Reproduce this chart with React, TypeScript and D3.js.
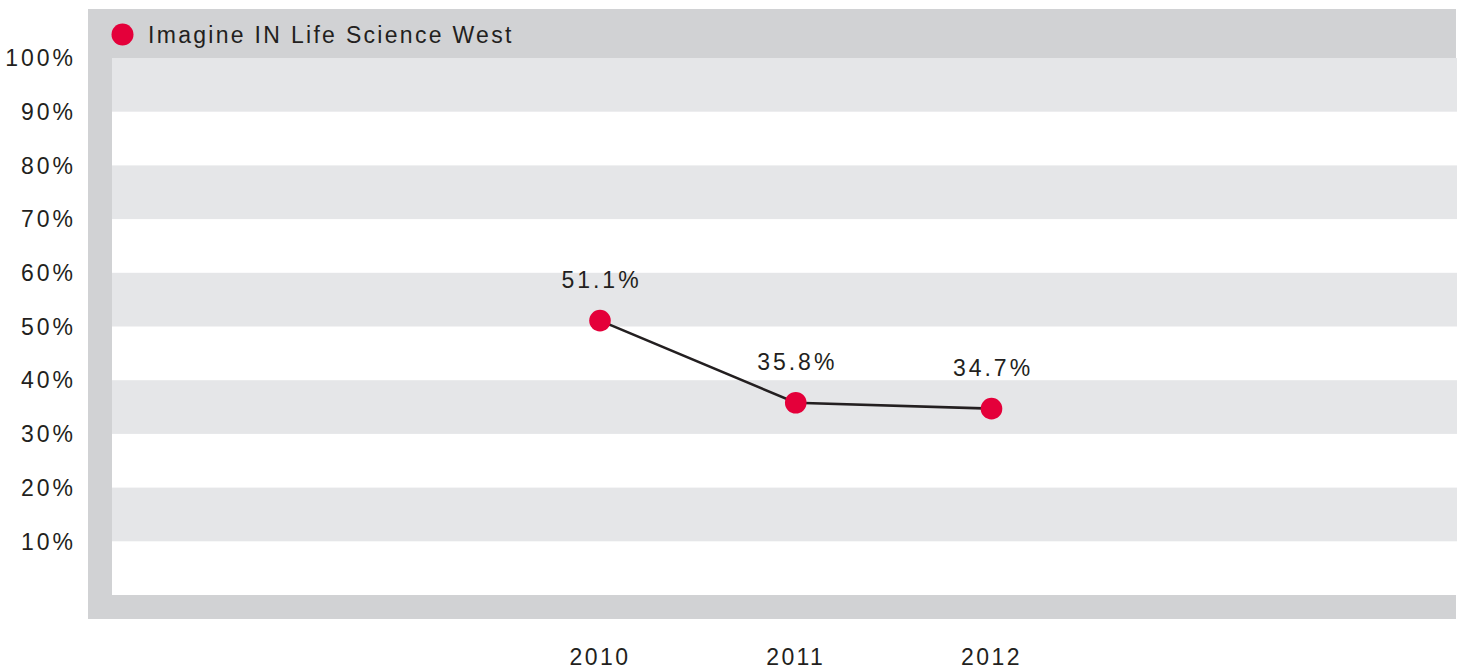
import React from "react";
import * as d3 from "d3";

const years = ["2010", "2011", "2012"];
const values = [51.1, 35.8, 34.7];
const valueLabels = ["51.1%", "35.8%", "34.7%"];
const yTicks = [10, 20, 30, 40, 50, 60, 70, 80, 90, 100];
const seriesName = "Imagine IN Life Science West";

const W = 1463;
const H = 670;
const FRAME = "#d1d2d4";
const STRIPE = "#e5e6e8";
const RED = "#e4003a";
const INK = "#231f20";
const FONT = "'Liberation Sans', Arial, Helvetica, sans-serif";

export default function App() {
  const plotLeft = 112;
  const plotRight = 1456;
  const plotTop = 58;
  const plotBottom = 595;

  const y = d3.scaleLinear().domain([0, 100]).range([plotBottom, plotTop]);
  const x = d3.scalePoint<string>().domain(years).range([600, 991.5]);

  const bands = d3.range(0, 100, 10);
  const line = d3
    .line<number>()
    .x((_, i) => x(years[i]) as number)
    .y((d) => y(d));

  return (
    <svg
      width={W}
      height={H}
      style={{ position: "absolute", left: 0, top: 0, background: "#fff" }}
      fontFamily={FONT}
    >
      {/* frame */}
      <rect x={88} y={9} width={1368} height={610} fill={FRAME} />
      <rect x={plotLeft} y={plotTop} width={plotRight - plotLeft} height={plotBottom - plotTop} fill="#fff" />
      {bands.map((b, i) =>
        i % 2 === 1 ? (
          <rect
            key={b}
            x={plotLeft}
            y={y(b + 10)}
            width={plotRight - plotLeft + 1}
            height={y(b) - y(b + 10)}
            fill={STRIPE}
          />
        ) : null
      )}

      {/* legend */}
      <circle cx={122.5} cy={34.5} r={11} fill={RED} />
      <text x={148} y={43} fontSize={23} letterSpacing={2.3} fill={INK}>
        {seriesName}
      </text>

      {/* y ticks */}
      {yTicks.map((t) => (
        <text
          key={t}
          x={73 + 3}
          y={y(t)}
          dy="0.36em"
          textAnchor="end"
          fontSize={23}
          letterSpacing={3}
          fill={INK}
        >
          {t}%
        </text>
      ))}

      {/* x labels */}
      {years.map((yr) => (
        <text
          key={yr}
          x={x(yr) as number}
          y={665}
          textAnchor="middle"
          fontSize={23}
          letterSpacing={2.4}
          fill={INK}
        >
          {yr}
        </text>
      ))}

      {/* line */}
      <path d={line(values) || ""} fill="none" stroke={INK} strokeWidth={2.6} />
      {values.map((v, i) => (
        <g key={i}>
          <circle cx={x(years[i]) as number} cy={y(v)} r={10.8} fill={RED} />
          <text
            x={(x(years[i]) as number) + 1.5}
            y={y(v) - 33}
            textAnchor="middle"
            fontSize={23}
            letterSpacing={3}
            fill={INK}
          >
            {valueLabels[i]}
          </text>
        </g>
      ))}
    </svg>
  );
}
